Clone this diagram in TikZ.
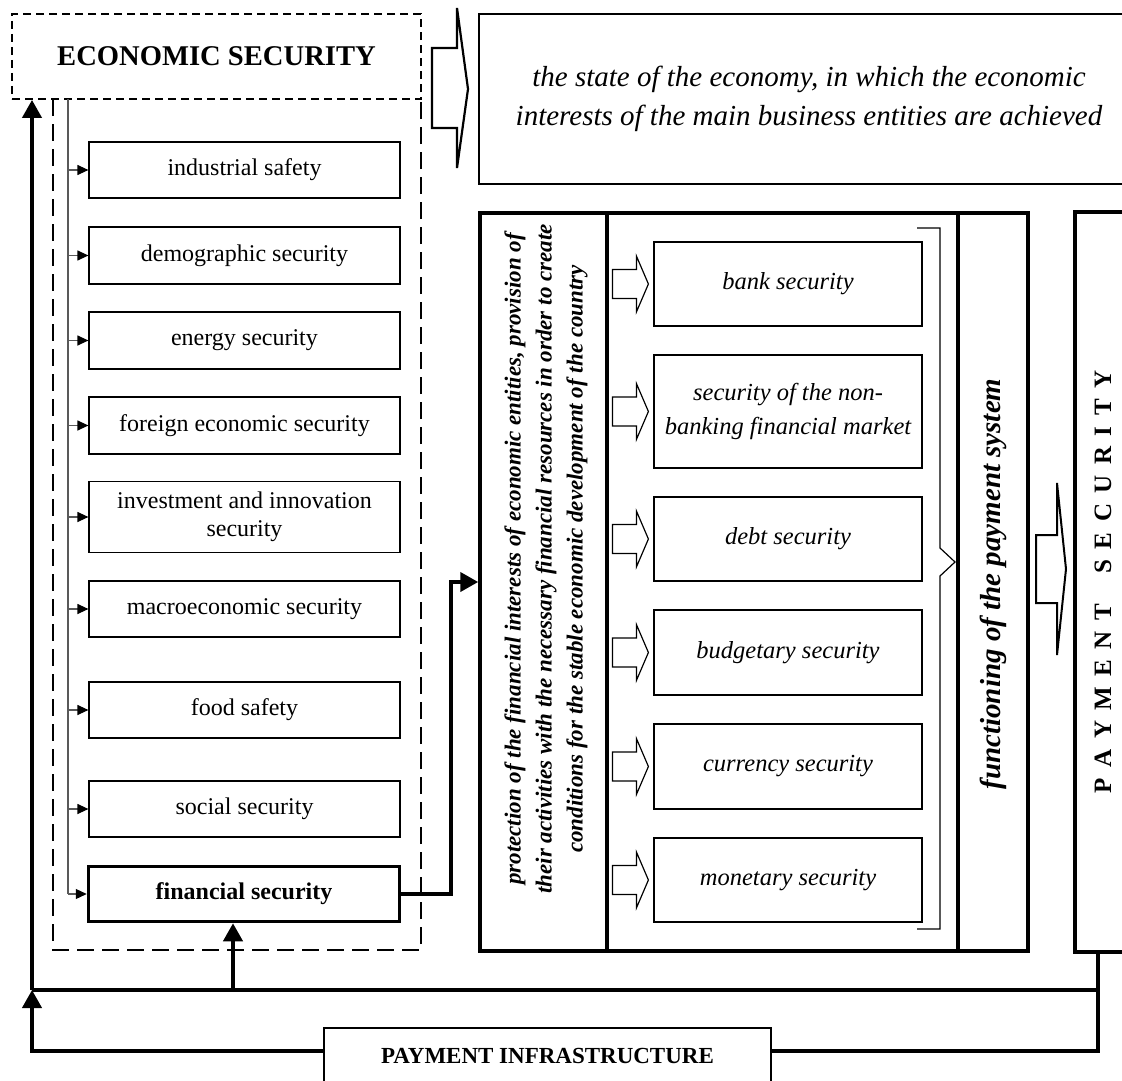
\documentclass[tikz,border=0pt]{standalone}
\usepackage{fontspec}
\setmainfont{Liberation Serif}
\usetikzlibrary{arrows.meta}
\begin{document}
\begin{tikzpicture}[x=1pt,y=-1pt,
 lbox/.style={draw, line width=1.2pt, minimum width=311pt, inner sep=0pt, align=center, font=\fontsize{24}{28}\selectfont},
 rbox/.style={draw, line width=1.2pt, minimum width=268pt, inner sep=0pt, align=center, font=\fontsize{24.5}{34}\selectfont\itshape},
 heavy/.style={line width=4pt},
 framebox/.style={draw, line width=3.5pt, inner sep=0pt},
 bigtip/.style={-{Triangle[length=18pt,width=19pt]}},
 smallarrow/.style={draw=gray!70!black, line width=1.2pt, -{Triangle[length=11pt,width=10pt,color=black]}},
 harrow/.pic={\draw[line width=1.2pt, line join=miter] (-36,-14.5) -- (-12,-14.5) -- (-12,-28) -- (0,0) -- (-12,28) -- (-12,14.5) -- (-36,14.5) -- cycle;},
]
\useasboundingbox (0,0) rectangle (1122,1081);

% economic security
\node[draw, line width=1.8pt, dash pattern=on 8pt off 5pt, minimum width=409pt, minimum height=85pt, inner sep=0pt,
      font=\fontsize{28.6}{32}\selectfont\bfseries] (es) at (216.5,56.5) {ECONOMIC SECURITY};
\draw[line width=1.8pt, dash pattern=on 17pt off 8pt] (53,99) -- (53,950) -- (421,950) -- (421,99);

% definition
\node[draw, line width=1.3pt, minimum width=660pt, minimum height=170pt, inner sep=0pt, align=center,
      font=\fontsize{29}{39}\selectfont\itshape] (def) at (809,99)
  {the state of the economy, in which the economic\\interests of the main business entities are achieved};
\draw[line width=2.2pt, line join=miter] (432,48) -- (457,48) -- (457,8) -- (468,89) -- (457,168) -- (457,128) -- (432,128) -- cycle;

% left boxes
\node[lbox, minimum height=56pt] (ind) at (244.5,170) {industrial safety};
\node[lbox, minimum height=57pt] (dem) at (244.5,255.5) {demographic security};
\node[lbox, minimum height=57pt] (ene) at (244.5,340.5) {energy security};
\node[lbox, minimum height=57pt] (fore) at (244.5,425.5) {foreign economic security};
\node[lbox, minimum height=71pt] (inv) at (244.5,517) {investment and innovation\\security};
\node[lbox, minimum height=56pt] (mac) at (244.5,609) {macroeconomic security};
\node[lbox, minimum height=56pt] (food) at (244.5,710) {food safety};
\node[lbox, minimum height=56pt] (soc) at (244.5,809) {social security};
\node[lbox, line width=3.5pt, minimum height=55pt, font=\fontsize{24}{28}\selectfont\bfseries] (fin) at (244,894) {financial security};

\coordinate (gtop) at (68,99);
\draw[draw=gray!70!black, line width=1.2pt] (gtop) -- (gtop |- fin.west);
\foreach \n in {ind,dem,ene,fore,inv,mac,food,soc,fin}
  \draw[smallarrow] (gtop |- \n.west) -- (\n.west);

% big frame
\node[framebox, minimum width=548pt, minimum height=738pt] (frame) at (754,582) {};
\draw[line width=3.5pt] (607,213) -- (607,951);
\draw[line width=3.5pt] (958,213) -- (958,951);
\node[rotate=90, align=center, font=\fontsize{23}{31}\selectfont\bfseries\itshape] (prot) at (546,559)
  {protection of the financial interests of economic entities, provision of\\
   their activities with the necessary financial resources in order to create\\
   conditions for the stable economic development of the country};
\node[rotate=90, font=\fontsize{29}{32}\selectfont\bfseries\itshape] (func) at (993,584) {functioning of the payment system};

% right sub boxes
\node[rbox, minimum height=84pt] (bank) at (788,284) {bank security};
\node[rbox, minimum height=113pt] (nonb) at (788,411.5) {security of the non-\\banking financial market};
\node[rbox, minimum height=84pt] (debt) at (788,539) {debt security};
\node[rbox, minimum height=85pt] (budg) at (788,652.5) {budgetary security};
\node[rbox, minimum height=85pt] (curr) at (788,766.5) {currency security};
\node[rbox, minimum height=84pt] (mone) at (788,880) {monetary security};
\foreach \n in {bank,nonb,debt,budg,curr,mone}
  \pic at ([xshift=-5pt]\n.west) {harrow};

% brace
\draw[line width=1.2pt, line join=miter] (917,228) -- (940,228) -- (940,548) -- (955,562) -- (940,576) -- (940,929) -- (917,929);

% payment security
\node[framebox, rotate=90, minimum width=740pt, minimum height=56pt,
      font=\fontsize{25}{28}\selectfont\bfseries] (ps) at (1103,582)
  {\spaceskip=10.5pt\relax P A Y M E N T\hspace{20pt} S E C U R I T Y};
\draw[line width=2pt, line join=miter] (1036,535) -- (1057,535) -- (1057,483) -- (1066,569) -- (1057,655) -- (1057,603) -- (1036,603) -- cycle;

% financial security to frame
\draw[heavy, bigtip] (fin.east) -- ++(50,0) |- (frame.west);

% payment infrastructure
\node[draw, line width=2pt, minimum width=447pt, minimum height=56pt, inner sep=0pt,
      font=\fontsize{23}{28}\selectfont\bfseries] (pi) at (547.5,1056) {PAYMENT INFRASTRUCTURE};

\coordinate (jl) at (32,990);
\coordinate (jr) at (1098,990);
\coordinate (pr) at (1098,952);
\coordinate (fa) at (233,990);
\draw[heavy] (jl) -- (jr);
\draw[heavy, bigtip] (jl) -- (jl |- es.south);
\draw[heavy, bigtip] (fa) -- (fa |- fin.south);
\draw[heavy, bigtip] ([yshift=5pt]pi.west) -| (jl);
\draw[heavy] ([yshift=5pt]pi.east) -| (pr);
\end{tikzpicture}
\end{document}
